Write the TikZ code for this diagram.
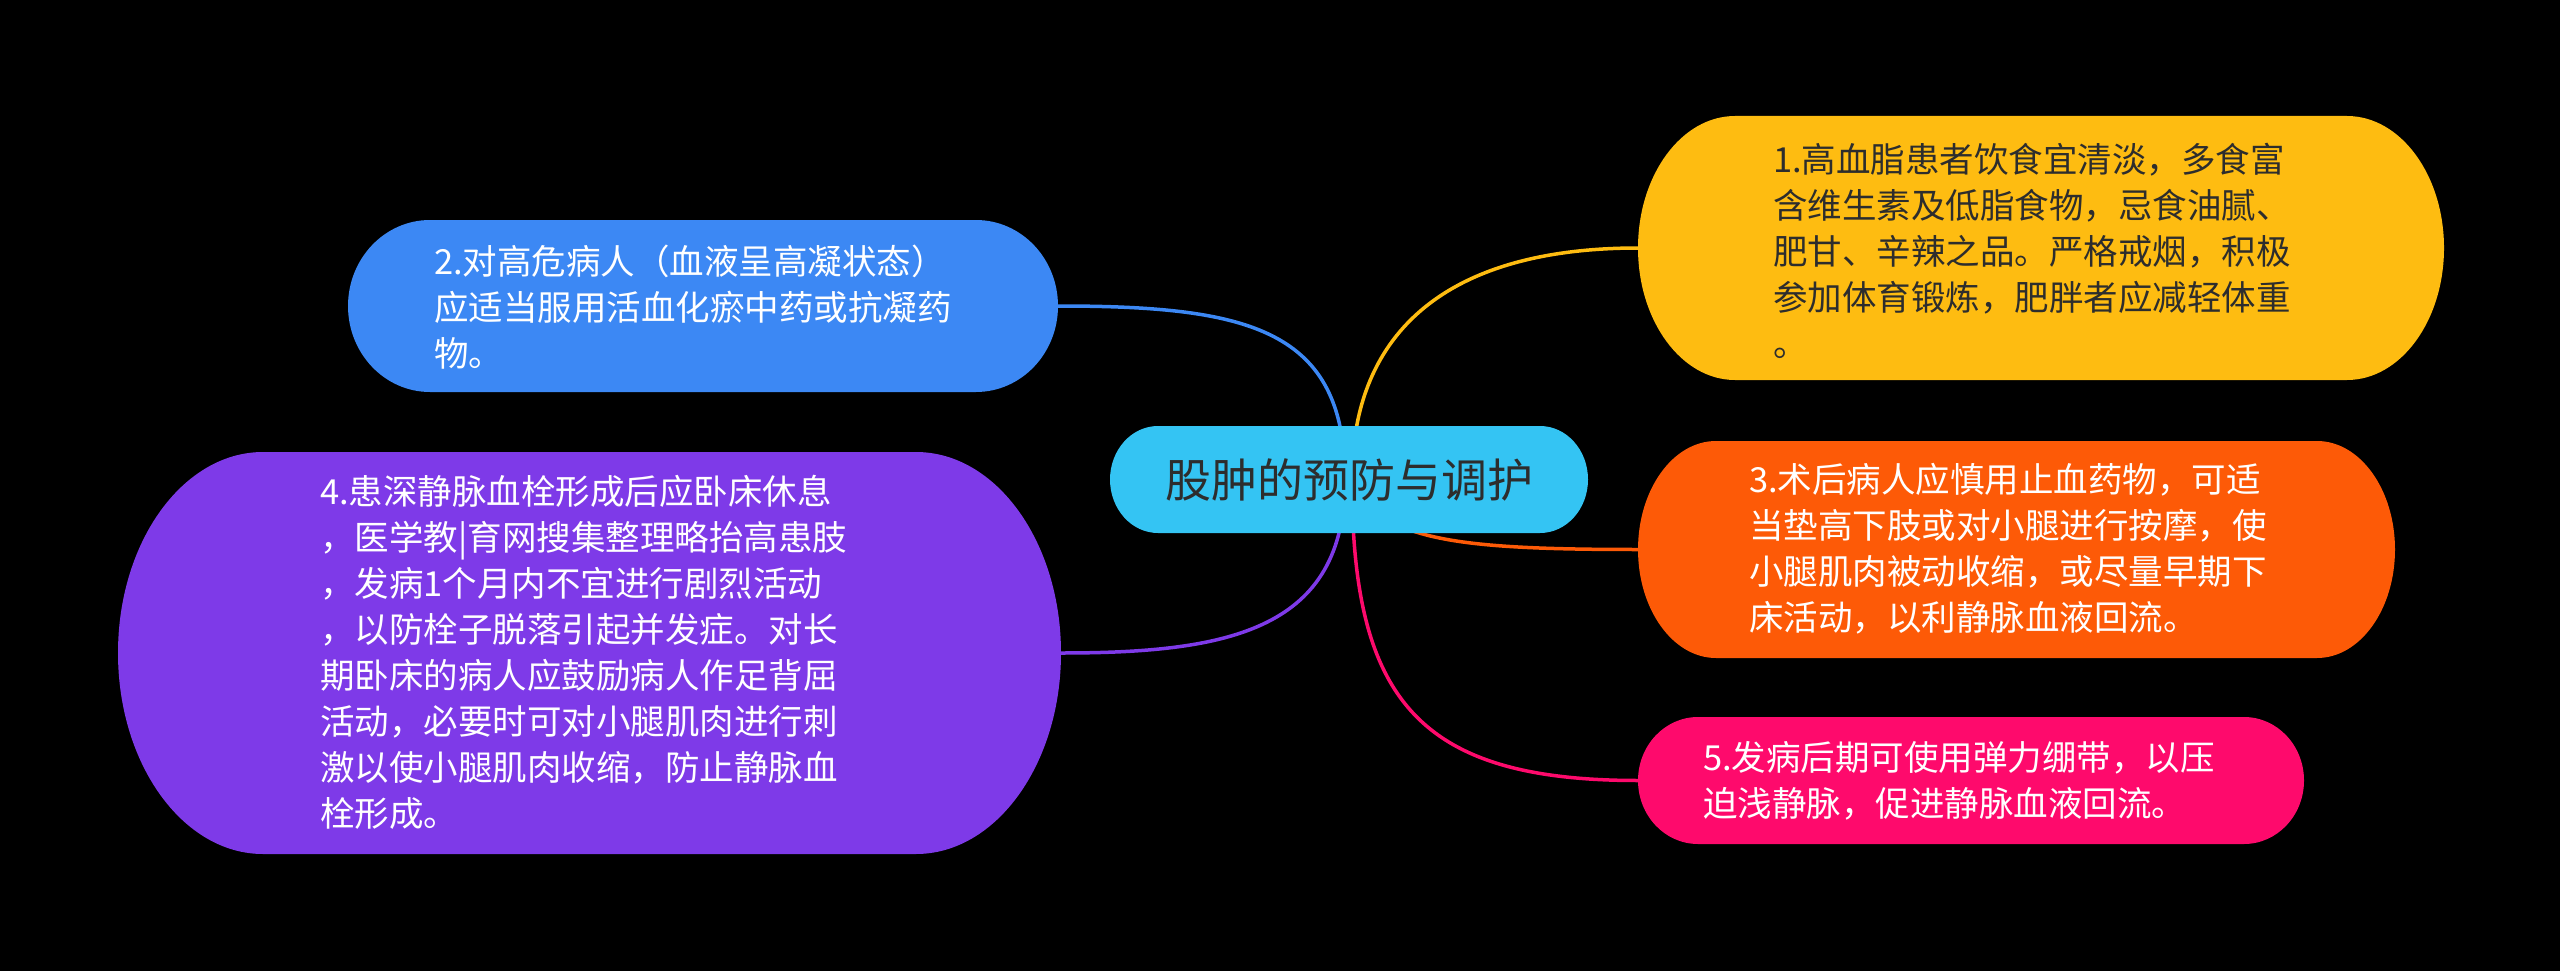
\documentclass[tikz,border=0pt]{standalone}
\usepackage{fontspec}
\setmainfont{Noto Sans CJK SC}
\definecolor{cfill}{RGB}{52,196,243}
\definecolor{yfill}{RGB}{254,188,17}
\definecolor{bfill}{RGB}{60,136,244}
\definecolor{ofill}{RGB}{253,90,7}
\definecolor{pfill}{RGB}{126,58,232}
\definecolor{kfill}{RGB}{254,10,108}
\definecolor{darktxt}{RGB}{45,45,45}
\tikzset{
  conn/.style={line width=3.5pt},
  box/.style={rectangle, inner sep=0pt, outer sep=0pt},
  txt/.style={anchor=west, align=left, inner sep=0pt, font=\fontsize{34.5}{46}\selectfont},
}
\newcommand{\pillfill}[4]{\fill[#4] ([xshift=#2pt]#1.north west) -- ([xshift=-#2pt]#1.north east) arc[start angle=90,end angle=-90,x radius=#2pt,y radius=#3pt] -- ([xshift=#2pt]#1.south west) arc[start angle=270,end angle=90,x radius=#2pt,y radius=#3pt] -- cycle;}
\begin{document}
\begin{tikzpicture}[x=1pt,y=-1pt]
\fill[black] (0,0) rectangle (2560,971);
% shape holders
\node[box, minimum width=478pt, minimum height=107pt] (c) at (1349,479.5) {};
\node[box, minimum width=806pt, minimum height=264pt] (n1) at (2041,248) {};
\node[box, minimum width=710pt, minimum height=172pt] (n2) at (703,306) {};
\node[box, minimum width=757pt, minimum height=217pt] (n3) at (2016.5,549.5) {};
\node[box, minimum width=943pt, minimum height=402pt] (n4) at (589.5,653) {};
\node[box, minimum width=666pt, minimum height=127pt] (n5) at (1971,780.5) {};
% connectors
\draw[conn, bfill] ([xshift=-4pt]c.center) .. controls +(0,-150) and +(192,0) .. (n2.east);
\draw[conn, yfill] ([xshift=3pt]c.center) .. controls +(0,-150) and +(-188,0) .. (n1.west);
\draw[conn, ofill] ([xshift=1pt]c.center) .. controls +(30,60) and +(-188,0) .. (n3.west);
\draw[conn, pfill] ([xshift=-4pt]c.center) .. controls +(0,150) and +(169,0) .. (n4.east);
\draw[conn, kfill] ([xshift=3pt]c.center) .. controls +(0,220) and +(-220,0) .. (n5.west);
% shapes
\pillfill{c}{48}{53.5}{cfill}
\pillfill{n1}{97}{132}{yfill}
\pillfill{n2}{82}{86}{bfill}
\pillfill{n3}{78}{108.5}{ofill}
\pillfill{n4}{145}{201}{pfill}
\pillfill{n5}{60}{63.5}{kfill}
% texts
\node[inner sep=0pt, font=\fontsize{46}{50}\selectfont, text=darktxt] (ct) at (c.center) {股肿的预防与调护};
\node[txt, text=darktxt] (t1) at (1773,251) {1.高血脂患者饮食宜清淡，多食富\\含维生素及低脂食物，忌食油腻、\\肥甘、辛辣之品。严格戒烟，积极\\参加体育锻炼，肥胖者应减轻体重\\。};
\node[txt, text=white] (t2) at (434,307) {2.对高危病人（血液呈高凝状态）\\应适当服用活血化瘀中药或抗凝药\\物。};
\node[txt, text=white] (t3) at (1749,549) {3.术后病人应慎用止血药物，可适\\当垫高下肢或对小腿进行按摩，使\\小腿肌肉被动收缩，或尽量早期下\\床活动，以利静脉血液回流。};
\node[txt, text=white] (t4) at (320,652) {4.患深静脉血栓形成后应卧床休息\\，医学教|育网搜集整理略抬高患肢\\，发病1个月内不宜进行剧烈活动\\，以防栓子脱落引起并发症。对长\\期卧床的病人应鼓励病人作足背屈\\活动，必要时可对小腿肌肉进行刺\\激以使小腿肌肉收缩，防止静脉血\\栓形成。};
\node[txt, text=white] (t5) at (1703,781) {5.发病后期可使用弹力绷带，以压\\迫浅静脉，促进静脉血液回流。};
\end{tikzpicture}
\end{document}
